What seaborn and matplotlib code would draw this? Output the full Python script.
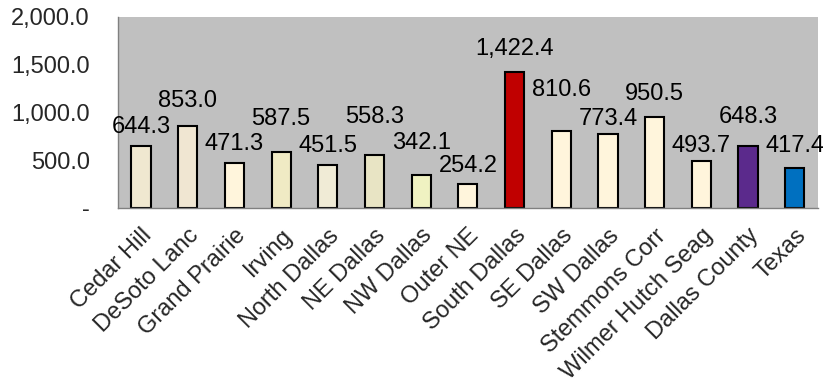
import numpy as np
import pandas as pd
import matplotlib
matplotlib.use("Agg")
import matplotlib.pyplot as plt
import seaborn as sns

# Values
areas = ["Cedar Hill", "DeSoto Lanc", "Grand Prairie", "Irving", "North Dallas",
         "NE Dallas", "NW Dallas", "Outer NE", "South Dallas", "SE Dallas",
         "SW Dallas", "Stemmons Corr", "Wilmer Hutch Seag", "Dallas County", "Texas"]
rates = [644.3, 853.0, 471.3, 587.5, 451.5, 558.3, 342.1, 254.2, 1422.4,
         810.6, 773.4, 950.5, 493.7, 648.3, 417.4]
bar_colors = ["#F0E8D0", "#F0E6D2", "#FFF5DC", "#F0EAC4", "#F0EBD6",
              "#E8E4C4", "#F0F2C2", "#FFF5DC", "#C00000", "#FFF5DC",
              "#FFF5DC", "#FFF5DC", "#FFF5DC", "#5B2A8C", "#0070C0"]
y_ticks = [0, 500, 1000, 1500, 2000]

# label offsets above the bars (points), as placed in the original
label_pad = [6, 10.5, 6, 16, 5.5, 19, 15, 4.5, 9, 21, 3, 9, 3, 13, 8]

sns.set_style("white")
plt.rcParams["font.family"] = ["Liberation Sans", "DejaVu Sans"]

df = pd.DataFrame({"area": areas, "rate": rates})

fig, ax = plt.subplots(figsize=(8.23, 3.83), dpi=100)
fig.subplots_adjust(left=0.143, right=0.994, top=0.956, bottom=0.457)

sns.barplot(data=df, x="area", y="rate", hue="area", palette=bar_colors,
            saturation=1, width=0.41, edgecolor="black", linewidth=1.5,
            legend=False, ax=ax)

ax.set_facecolor("#C0C0C0")

def fmt(v):
    return f"{v:,.1f}"

for cont, pad in zip(ax.containers, label_pad):
    ax.bar_label(cont, labels=[fmt(b.get_height()) for b in cont],
                 padding=pad, fontsize=17, color="black")

ax.set_ylim(0, 2000)
ax.set_yticks(y_ticks)
ax.set_yticklabels(["-" if v == 0 else fmt(v) for v in y_ticks], fontsize=17)
ax.set_xlim(-0.5, len(areas) - 0.5)

ax.set_xlabel("")
ax.set_ylabel("")
ax.set_xticks(range(len(areas)))
ax.set_xticklabels(areas, rotation=45, ha="right", rotation_mode="anchor",
                   fontsize=17)
ax.set_xticks(np.arange(-0.5, len(areas), 1.0), minor=True)
ax.tick_params(axis="x", which="major", length=0, pad=12)
ax.tick_params(axis="x", which="minor", length=6, color="#808080", width=1, direction="out")
ax.tick_params(axis="y", length=6, color="#808080", width=1, direction="out", pad=14)

for side in ["top", "right"]:
    ax.spines[side].set_visible(False)
for side in ["left", "bottom"]:
    ax.spines[side].set_color("#808080")
    ax.spines[side].set_linewidth(1)

fig.savefig("out.png", dpi=100, facecolor="white")
